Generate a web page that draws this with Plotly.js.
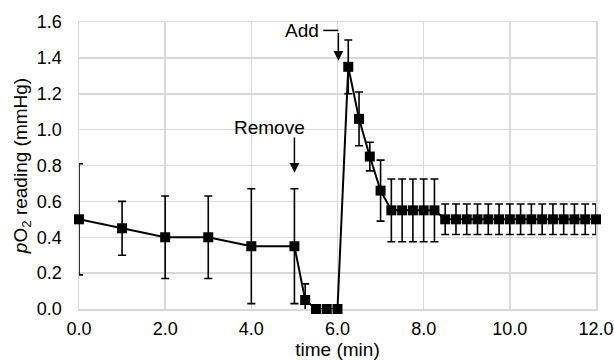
<!DOCTYPE html>
<html>
<head>
<meta charset="utf-8">
<script src="https://cdn.plot.ly/plotly-3.0.1.min.js"></script>
<style>html,body{margin:0;padding:0;background:#fff;}#chart{width:614px;height:360px;}</style>
</head>
<body>
<div id="chart"></div>
<script>
var timeMin = [0, 1, 2, 3, 4, 5, 5.25, 5.5, 5.75, 6.0, 6.25, 6.5, 6.75, 7.0,
  7.25, 7.5, 7.75, 8.0, 8.25,
  8.5, 8.75, 9.0, 9.25, 9.5, 9.75, 10.0, 10.25, 10.5, 10.75, 11.0, 11.25, 11.5, 11.75, 12.0];
var pO2 = [0.50, 0.45, 0.40, 0.40, 0.35, 0.35, 0.05, 0.0, 0.0, 0.0, 1.35, 1.06, 0.85, 0.66,
  0.55, 0.55, 0.55, 0.55, 0.55,
  0.50, 0.50, 0.50, 0.50, 0.50, 0.50, 0.50, 0.50, 0.50, 0.50, 0.50, 0.50, 0.50, 0.50, 0.50];
var errSD = [0.31, 0.15, 0.23, 0.23, 0.32, 0.32, 0.09, 0, 0, 0, 0.15, 0.15, 0.08, 0.17,
  0.175, 0.175, 0.175, 0.175, 0.175,
  0.085, 0.085, 0.085, 0.085, 0.085, 0.085, 0.085, 0.085, 0.085, 0.085, 0.085, 0.085, 0.085, 0.085, 0.085];
var xTickVals = [0, 2, 4, 6, 8, 10, 12];
var yTickVals = [0, 0.2, 0.4, 0.6, 0.8, 1.0, 1.2, 1.4, 1.6];

var FONT = 'Liberation Sans, Arial, Helvetica, sans-serif';
var TICK = 18, TITLE = 19;

var lineTrace = {
  x: timeMin, y: pO2, type: 'scatter', mode: 'lines',
  line: {color: '#000', width: 2},
  error_y: {type: 'data', array: errSD, visible: true, color: '#000', thickness: 1.6, width: 4},
  hoverinfo: 'none'
};
var markerTrace = {
  x: timeMin, y: pO2, type: 'scatter', mode: 'markers',
  marker: {symbol: 'square', size: 10, color: '#000'},
  cliponaxis: false,
  hoverinfo: 'none'
};

var layout = {
  width: 614, height: 360,
  margin: {l: 79, r: 18, t: 22, b: 51},
  paper_bgcolor: '#fff', plot_bgcolor: '#fff',
  showlegend: false,
  font: {family: FONT, size: TICK, color: '#000'},
  xaxis: {
    range: [0, 12], tickvals: xTickVals, tickformat: '.1f',
    showgrid: true, gridcolor: '#d9d9d9', gridwidth: 1.5,
    showline: true, linecolor: '#d9d9d9', linewidth: 1.5, mirror: true,
    zeroline: false, ticks: '', ticklabelstandoff: 3, layer: 'below traces',
    tickfont: {family: FONT, size: TICK, color: '#000'},
    title: {text: 'time (min)', font: {family: FONT, size: TITLE, color: '#000'}, standoff: 4}
  },
  yaxis: {
    range: [0, 1.6], tickvals: yTickVals, tickformat: '.1f',
    showgrid: true, gridcolor: '#d9d9d9', gridwidth: 1.5,
    showline: true, linecolor: '#d9d9d9', linewidth: 1.5, mirror: true,
    zeroline: false, ticks: '', ticklabelstandoff: 12, layer: 'below traces',
    tickfont: {family: FONT, size: TICK, color: '#000'},
    title: {text: '<i>p</i>O<sub>2</sub> reading (mmHg)', font: {family: FONT, size: TITLE, color: '#000'}, standoff: 4}
  },
  shapes: [
    {type: 'line', xref: 'x', yref: 'y', x0: 5.67, x1: 6.02, y0: 1.553, y1: 1.553,
     line: {color: '#000', width: 1.5}}
  ],
  annotations: [
    {x: 4.43, y: 1.01, xref: 'x', yref: 'y', text: 'Remove', showarrow: false,
     font: {family: FONT, size: TITLE, color: '#000'}},
    {x: 5.0, y: 0.76, xref: 'x', yref: 'y', ax: 5.0, ay: 0.97, axref: 'x', ayref: 'y',
     text: ' ', showarrow: true, arrowhead: 2, arrowsize: 1.3, arrowwidth: 1.5, arrowcolor: '#000',
     font: {size: 2}},
    {x: 5.67, y: 1.553, xref: 'x', yref: 'y', xanchor: 'right', text: 'Add', showarrow: false,
     xshift: -2, font: {family: FONT, size: TITLE, color: '#000'}},
    {x: 6.02, y: 1.384, xref: 'x', yref: 'y', ax: 6.02, ay: 1.553, axref: 'x', ayref: 'y',
     text: ' ', showarrow: true, arrowhead: 2, arrowsize: 1.3, arrowwidth: 1.5, arrowcolor: '#000',
     font: {size: 2}}
  ]
};

Plotly.newPlot('chart', [lineTrace, markerTrace], layout, {staticPlot: true, displayModeBar: false});
</script>
</body>
</html>
